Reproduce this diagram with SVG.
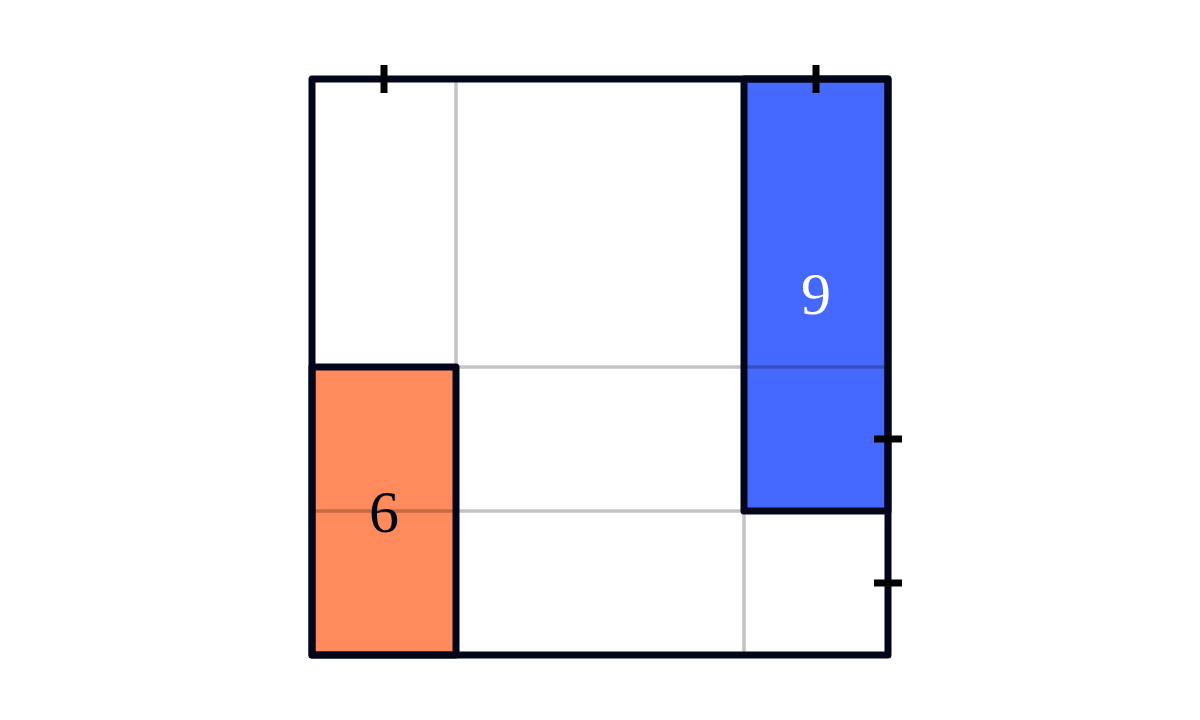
<svg xmlns="http://www.w3.org/2000/svg" width="1200" height="720" viewBox="0 0 1200 720">
<style>
.grid{stroke:#000;stroke-opacity:0.23;stroke-width:3.5;fill:none}
.border{stroke:#03061a;stroke-width:7;fill:none;stroke-linejoin:round}
.tick{stroke:#000;stroke-width:7}
.num{font-family:"Liberation Serif","DejaVu Serif",serif;font-size:60px;text-anchor:middle}
</style>
<rect width="1200" height="720" fill="#ffffff"/>
<g id="fills">
<rect x="312" y="367" width="144" height="288" fill="#ff8a5b"/>
<rect x="744" y="79" width="144" height="432" fill="#4569ff"/>
</g>
<g id="grid">
<line class="grid" x1="456" y1="79" x2="456" y2="655"/>
<line class="grid" x1="744" y1="79" x2="744" y2="655"/>
<line class="grid" x1="312" y1="367" x2="888" y2="367"/>
<line class="grid" x1="312" y1="511" x2="888" y2="511"/>
</g>
<g id="node-orange">
<rect class="border" x="312" y="367" width="144" height="288"/>
<text class="num" x="384" y="532" fill="#03061a">6</text>
</g>
<g id="node-blue">
<rect class="border" x="744" y="79" width="144" height="432"/>
<text class="num" x="816" y="314" fill="#ffffff">9</text>
</g>
<g id="outer">
<rect class="border" x="312" y="79" width="576" height="576"/>
</g>
<g id="ticks">
<line class="tick" x1="384" y1="65" x2="384" y2="93"/>
<line class="tick" x1="816" y1="65" x2="816" y2="93"/>
<line class="tick" x1="874" y1="439" x2="902" y2="439"/>
<line class="tick" x1="874" y1="583" x2="902" y2="583"/>
</g>
</svg>
